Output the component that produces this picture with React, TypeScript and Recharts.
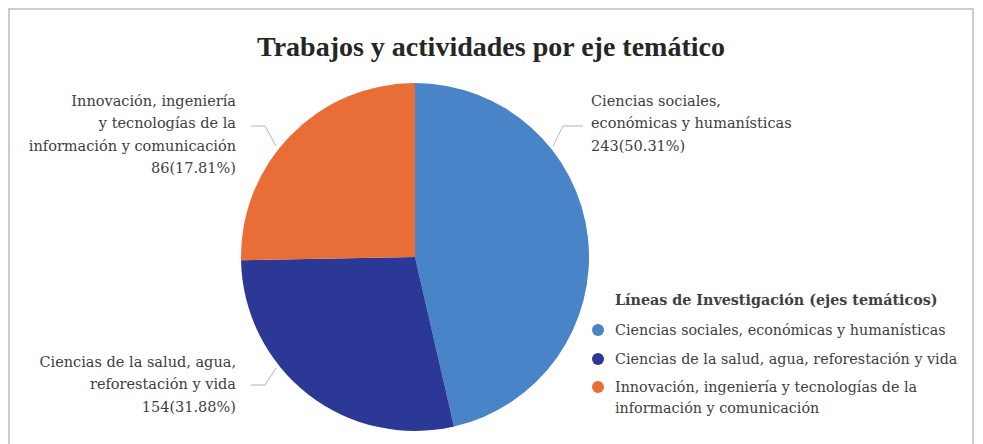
import { PieChart, Pie, Cell, Legend } from "recharts";

// Ejes temáticos
const categories = [
  "Ciencias sociales, económicas y humanísticas",
  "Ciencias de la salud, agua, reforestación y vida",
  "Innovación, ingeniería y tecnologías de la información y comunicación",
];
// conteos de las etiquetas
const counts = [243, 154, 86];
// proporción de cada sector tal como se ve en el gráfico
const sliceShares = [46.4, 28.3, 25.3];
const labelLines = [
  ["Ciencias sociales,", "económicas y humanísticas"],
  ["Ciencias de la salud, agua,", "reforestación y vida"],
  ["Innovación, ingeniería", "y tecnologías de la", "información y comunicación"],
];
const colors = ["#4884C7", "#2C3895", "#E96D36"];

const total = counts.reduce((a, b) => a + b, 0);
const data = categories.map((name, i) => ({ name, value: sliceShares[i], count: counts[i] }));

// posición de las etiquetas, relativa al centro
const labelLayout = [
  { line: [[138, -111], [148, -131], [168, -131]], tx: 176, ty: -156, anchor: "start" },
  { line: [[-139, 111], [-150, 128], [-164, 128]], tx: -179, ty: 105, anchor: "end" },
  { line: [[-139, -111], [-150, -131], [-164, -131]], tx: -179, ty: -156, anchor: "end" },
];

const font = "'DejaVu Serif', serif";

function renderLabel(props: any) {
  const { cx, cy, index } = props;
  const l = labelLayout[index];
  const pts = l.line.map(([x, y]) => `${cx + x},${cy + y}`).join(" ");
  const lines = [...labelLines[index], `${counts[index]}(${((counts[index] / total) * 100).toFixed(2)}%)`];
  return (
    <g key={`lbl-${index}`}>
      <polyline points={pts} fill="none" stroke="#b5b5b5" strokeWidth={1} />
      {lines.map((t, k) => (
        <text
          key={k}
          x={cx + l.tx}
          y={cy + l.ty + k * 22.3}
          textAnchor={l.anchor as any}
          dominantBaseline="central"
          fill="#404040"
          fontSize={14.5}
          fontFamily={font}
        >
          {t}
        </text>
      ))}
    </g>
  );
}

function LegendContent() {
  return (
    <div style={{ fontFamily: font, color: "#404040", fontSize: 14.3, lineHeight: "21px", width: 370 }}>
      <div style={{ fontWeight: "bold", marginBottom: 9, paddingLeft: 23 }}>Líneas de Investigación (ejes temáticos)</div>
      {categories.map((name, i) => (
        <div key={name} style={{ display: "flex", alignItems: "flex-start", marginBottom: 7.5 }}>
          <span
            style={{
              width: 12,
              height: 12,
              borderRadius: 6,
              background: colors[i],
              marginTop: 4,
              marginRight: 11,
              flex: "none",
            }}
          />
          <span style={{ width: 345 }}>{name}</span>
        </div>
      ))}
    </div>
  );
}

export default function App() {
  return (
    <div style={{ position: "relative", width: 962, height: 440, border: "2px solid #cccccc", borderBottom: "none" }}>
      <div
        style={{
          position: "absolute",
          left: 0,
          top: 21,
          width: 962,
          textAlign: "center",
          fontFamily: "'Liberation Serif', serif",
          fontWeight: "bold",
          fontSize: 28,
          color: "#262626",
        }}
      >
        Trabajos y actividades por eje temático
      </div>
      <PieChart width={962} height={440} margin={{ top: 0, right: 0, bottom: 0, left: 0 }}>
        <Pie
          data={data}
          dataKey="value"
          nameKey="name"
          cx={405}
          cy={247}
          outerRadius={174}
          startAngle={90}
          endAngle={-270}
          stroke="none"
          label={renderLabel}
          labelLine={false}
          isAnimationActive={false}
        >
          {data.map((d, i) => (
            <Cell key={d.name} fill={colors[i]} />
          ))}
        </Pie>
        <Legend
          content={<LegendContent />}
          wrapperStyle={{ position: "absolute", left: 582, top: 280, width: 370 }}
        />
      </PieChart>
    </div>
  );
}
